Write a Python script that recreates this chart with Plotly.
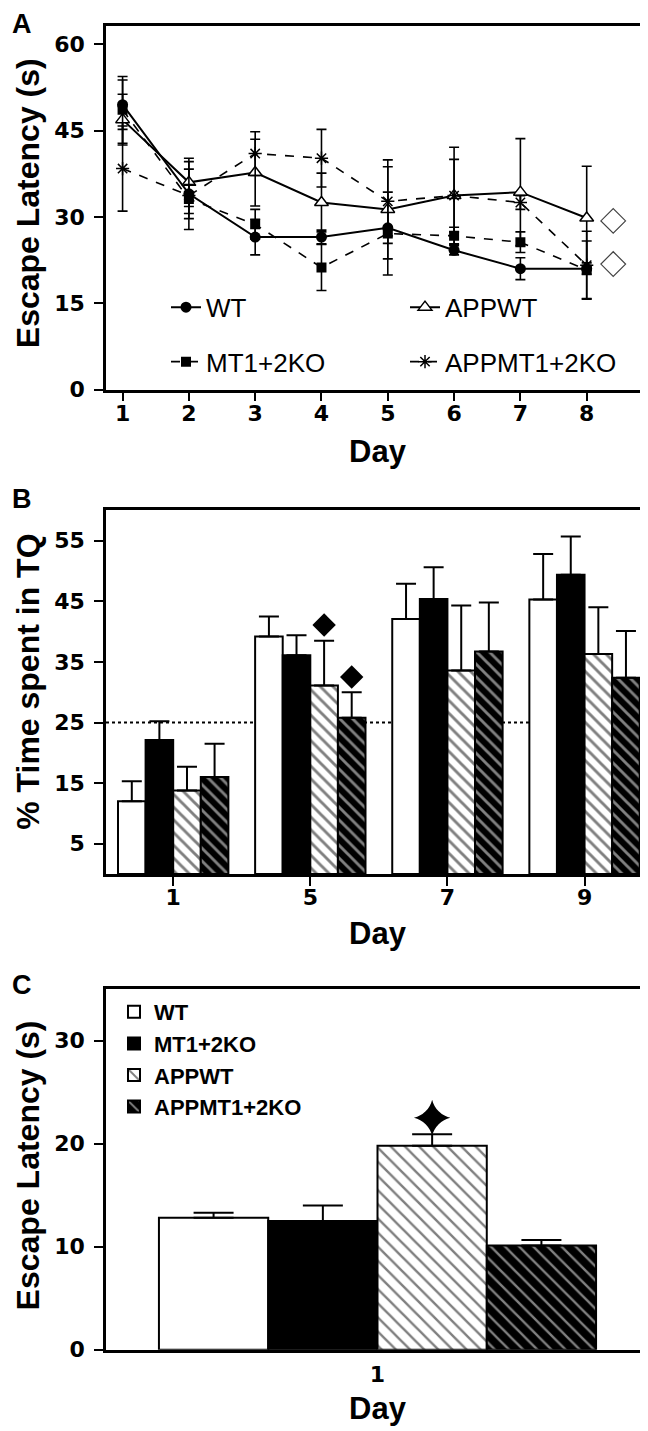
import plotly.graph_objects as go

FONT = "Liberation Sans, Arial, sans-serif"
TICKFONT = "DejaVu Sans, Liberation Sans, sans-serif"

# ---------------- Panel A data ----------------
days_a = [1, 2, 3, 4, 5, 6, 7, 8]
wt_a = [49.5, 34.0, 26.5, 26.5, 28.1, 24.2, 21.0, 21.0]
wt_a_err = [4.3, 4.3, 3.1, 1.2, 2.7, 0.8, 1.9, 1.0]
mt_a = [48.6, 33.1, 28.7, 21.2, 27.1, 26.7, 25.6, 20.8]
mt_a_err = [5.8, 2.5, 2.6, 4.0, 7.2, 1.5, 1.8, 5.0]
appwt_a = [46.9, 36.0, 37.7, 32.5, 31.3, 33.7, 34.3, 29.8]
appwt_a_err = [4.4, 4.2, 5.8, 5.1, 8.6, 8.4, 9.3, 9.0]
appmt_a = [38.4, 33.7, 41.0, 40.2, 32.7, 33.7, 32.5, 21.6]
appmt_a_err = [7.4, 5.9, 3.8, 5.0, 6.0, 6.3, 1.2, 5.9]
sig_a_x = [8.4, 8.4]
sig_a_y = [29.3, 21.8]

# ---------------- Panel B data ----------------
days_b = ["1", "5", "7", "9"]
wt_b = [12.0, 39.2, 42.1, 45.3]
wt_b_err = [3.3, 3.3, 5.8, 7.5]
mt_b = [22.1, 36.1, 45.4, 49.4]
mt_b_err = [3.1, 3.3, 5.2, 6.3]
appwt_b = [13.8, 31.1, 33.6, 36.3]
appwt_b_err = [3.9, 7.4, 10.7, 7.7]
appmt_b = [16.0, 25.8, 36.7, 32.4]
appmt_b_err = [5.5, 4.2, 8.1, 7.7]
chance_b = 25
sig_b_day_index = [1, 1]        # day 5 group
sig_b_bar_index = [2, 3]        # APPWT, APPMT bars
sig_b_y = [41.1, 32.5]

# ---------------- Panel C data ----------------
days_c = ["1"]
wt_c = [12.8]
wt_c_err = [0.5]
mt_c = [12.5]
mt_c_err = [1.5]
appwt_c = [19.8]
appwt_c_err = [1.1]
appmt_c = [10.1]
appmt_c_err = [0.55]
sig_c_bar_index = [2]
sig_c_y = [22.5]

names = ["WT", "MT1+2KO", "APPWT", "APPMT1+2KO"]

BARGAP = 0.195
NBARS = 4
group_w = 1 - BARGAP
bar_w = group_w / NBARS


def bar_offset(k):
    return -group_w / 2 + (k + 0.5) * bar_w


W, H = 648, 1431


def px_x(p):
    return p / W


def px_y(p):
    return 1 - p / H


fig = go.Figure()

# ---------------- Panel A traces ----------------
series_a = [
    ("WT", wt_a, wt_a_err, dict(symbol="circle", size=11, color="black"), "solid", 2, "legend"),
    ("APPWT", appwt_a, appwt_a_err,
     dict(symbol="triangle-up", size=12, color="white", line=dict(color="black", width=1.5)), "solid", 2, "legend"),
    ("MT1+2KO", mt_a, mt_a_err, dict(symbol="square", size=10, color="black"), "dash", 1.6, "legend2"),
    ("APPMT1+2KO", appmt_a, appmt_a_err,
     dict(symbol="asterisk-open", size=11, color="black", line=dict(color="black", width=1.5)), "dash", 1.6, "legend2"),
]
for name, ys, err, mk, dash, lw, lg in series_a:
    fig.add_trace(go.Scatter(
        x=days_a, y=ys, name=name, mode="lines+markers",
        line=dict(color="black", width=lw, dash=dash),
        marker=mk,
        error_y=dict(type="data", array=err, visible=True, color="black", thickness=1.6, width=5),
        xaxis="x", yaxis="y", legend=lg,
    ))

fig.add_trace(go.Scatter(
    x=sig_a_x, y=sig_a_y, mode="markers", showlegend=False,
    marker=dict(symbol="diamond-open", size=19, color="#444", line=dict(width=1.2, color="#444")),
    xaxis="x", yaxis="y",
))

# ---------------- Bar styles ----------------
def hatch(bg, fg, size, solid):
    return dict(color=bg, line=dict(color="black", width=2),
                pattern=dict(shape="\\", fgcolor=fg, bgcolor=bg, size=size, solidity=solid, fillmode="overlay"))


styles = [
    dict(color="white", line=dict(color="black", width=2)),
    dict(color="black", line=dict(color="black", width=2)),
    hatch("white", "black", 9, 0.32),
    hatch("black", "white", 9, 0.32),
]
styles_c = [
    dict(color="white", line=dict(color="black", width=2)),
    dict(color="black", line=dict(color="black", width=2)),
    hatch("white", "black", 10, 0.24),
    hatch("black", "white", 10, 0.24),
]

# ---------------- Panel B traces ----------------
xb = list(range(len(days_b)))
vals_b = [(wt_b, wt_b_err), (mt_b, mt_b_err), (appwt_b, appwt_b_err), (appmt_b, appmt_b_err)]
for k, (v, e) in enumerate(vals_b):
    fig.add_trace(go.Bar(
        x=xb, y=v, name=names[k], marker=styles[k], showlegend=False,
        error_y=dict(type="data", array=e, arrayminus=[0] * len(e), symmetric=False,
                     color="black", thickness=2, width=10),
        xaxis="x2", yaxis="y2",
    ))

fig.add_trace(go.Scatter(
    x=[d + bar_offset(b) for d, b in zip(sig_b_day_index, sig_b_bar_index)],
    y=sig_b_y, mode="markers", showlegend=False,
    marker=dict(symbol="diamond", size=18, color="black"),
    xaxis="x2", yaxis="y2",
))

# ---------------- Panel C traces ----------------
xc = list(range(len(days_c)))
vals_c = [(wt_c, wt_c_err), (mt_c, mt_c_err), (appwt_c, appwt_c_err), (appmt_c, appmt_c_err)]
for k, (v, e) in enumerate(vals_c):
    fig.add_trace(go.Bar(
        x=xc, y=v, name=names[k], marker=styles_c[k], legend="legend3",
        error_y=dict(type="data", array=e, arrayminus=[0] * len(e), symmetric=False,
                     color="black", thickness=2, width=20),
        xaxis="x3", yaxis="y3",
    ))

fig.add_trace(go.Scatter(
    x=[xc[0] + bar_offset(b) for b in sig_c_bar_index], y=sig_c_y, mode="markers", showlegend=False,
    marker=dict(symbol="star-diamond", size=26, color="black"),
    xaxis="x3", yaxis="y3",
))

# ---------------- Layout ----------------
tickfont = dict(family=TICKFONT, size=22, color="black", weight="bold")
axis_common = dict(showline=True, linecolor="black", linewidth=2.5, mirror=True,
                   ticks="outside", ticklen=9, tickwidth=2, tickcolor="black",
                   showgrid=False, zeroline=False, tickfont=tickfont)
xstand = -7
ystand = 5

fig.update_layout(
    width=W, height=H,
    margin=dict(l=0, r=0, t=0, b=0),
    paper_bgcolor="white", plot_bgcolor="white",
    barmode="group", bargap=BARGAP, bargroupgap=0,
    font=dict(family=FONT, color="black"),
    xaxis=dict(domain=[px_x(98), px_x(645)], anchor="y", range=[0.75, 9.0],
               tickmode="array", tickvals=days_a, ticktext=[str(d) for d in days_a],
               ticklabelstandoff=xstand, **axis_common),
    yaxis=dict(domain=[px_y(385), px_y(18)], anchor="x", range=[0, 63.2],
               tickmode="array", tickvals=[0, 15, 30, 45, 60], ticklabelstandoff=ystand, **axis_common),
    xaxis2=dict(domain=[px_x(98), px_x(641)], anchor="y2", range=[-0.49, 3.47],
                tickmode="array", tickvals=xb, ticktext=days_b, ticklabelstandoff=xstand, **axis_common),
    yaxis2=dict(domain=[px_y(874), px_y(507)], anchor="x2", range=[0, 60],
                tickmode="array", tickvals=[5, 15, 25, 35, 45, 55], ticklabelstandoff=ystand, **axis_common),
    xaxis3=dict(domain=[px_x(98), px_x(641)], anchor="y3", range=[-0.5, 0.5],
                tickmode="array", tickvals=xc, ticktext=days_c, ticklabelstandoff=3,
                **{**axis_common, "ticks": ""}),
    yaxis3=dict(domain=[px_y(1354), px_y(990)], anchor="x3", range=[0, 35],
                tickmode="array", tickvals=[0, 10, 20, 30], ticklabelstandoff=ystand, **axis_common),
    legend=dict(orientation="h", x=px_x(158), y=px_y(302), xanchor="left", yanchor="middle",
                entrywidth=194, entrywidthmode="pixels", bgcolor="rgba(0,0,0,0)",
                font=dict(family=FONT, size=26, color="black"), itemsizing="trace"),
    legend2=dict(orientation="h", x=px_x(158), y=px_y(357), xanchor="left", yanchor="middle",
                 entrywidth=194, entrywidthmode="pixels", bgcolor="rgba(0,0,0,0)",
                 font=dict(family=FONT, size=26, color="black"), itemsizing="trace"),
    legend3=dict(orientation="v", x=px_x(106), y=px_y(992), xanchor="left", yanchor="top",
                 bgcolor="rgba(0,0,0,0)", font=dict(family=FONT, size=22, color="black", weight="bold")),
    shapes=[dict(type="line", xref="x2 domain", yref="y2", x0=0, x1=1, y0=chance_b, y1=chance_b,
                 line=dict(color="black", width=2, dash="dot"), layer="below")],
)

ann = []
for letter, ypx in [("A", 16), ("B", 496), ("C", 986)]:
    ann.append(dict(text=letter, x=px_x(2), y=px_y(ypx), xref="paper", yref="paper",
                    xanchor="left", yanchor="middle", showarrow=False,
                    font=dict(family=FONT, size=27, color="black", weight="bold")))
for txt, ypx in [("Escape Latency (s)", 197), ("% Time spent in TQ", 680), ("Escape Latency (s)", 1168)]:
    ann.append(dict(text=txt, x=px_x(20), y=px_y(ypx), xref="paper", yref="paper",
                    xanchor="center", yanchor="middle", textangle=-90, showarrow=False,
                    font=dict(family=FONT, size=32, color="black", weight="bold")))
for ypx, xc_px in [(448, 370), (934, 370), (1413, 370)]:
    ann.append(dict(text="Day", x=px_x(xc_px), y=px_y(ypx), xref="paper", yref="paper",
                    xanchor="center", yanchor="middle", showarrow=False,
                    font=dict(family=FONT, size=31, color="black", weight="bold")))
fig.update_layout(annotations=ann)

fig.write_html("out.html")
